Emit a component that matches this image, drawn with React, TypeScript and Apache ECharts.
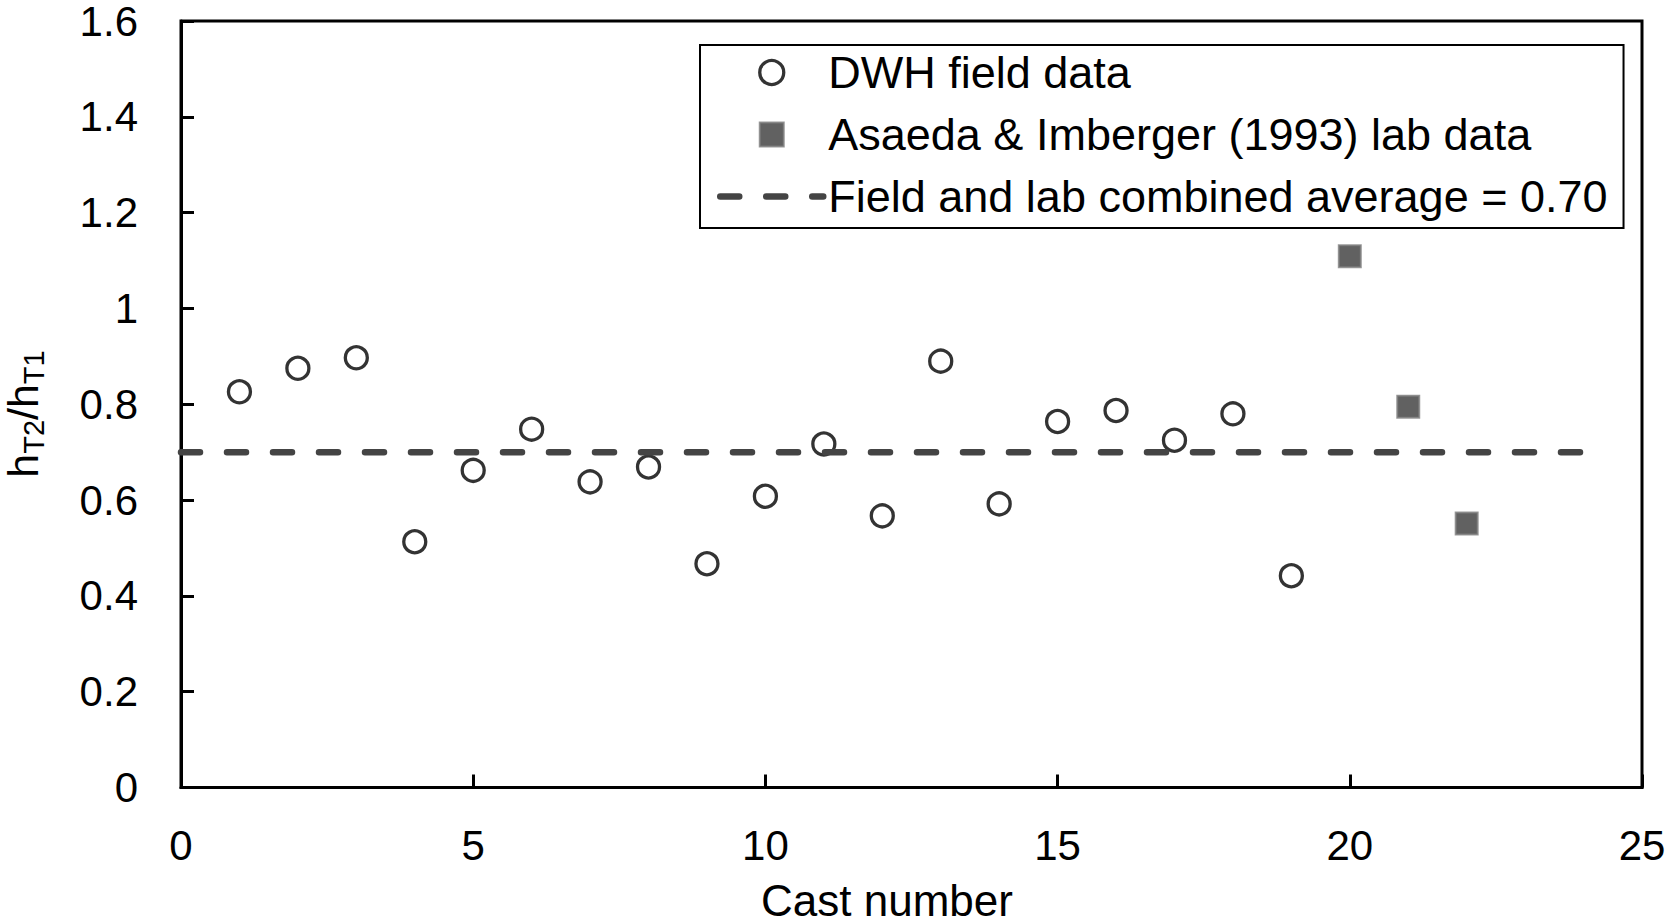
import React, { useEffect, useRef } from "react";
import * as echarts from "echarts";

// ---- data ----
const dwhCast = [1, 2, 3, 4, 5, 6, 7, 8, 9, 10, 11, 12, 13, 14, 15, 16, 17, 18, 19];
const dwhRatio = [0.826, 0.875, 0.897, 0.513, 0.662, 0.748, 0.638, 0.669, 0.467, 0.608, 0.717, 0.567, 0.89, 0.592, 0.764, 0.787, 0.725, 0.78, 0.442];
const labCast = [20, 21, 22];
const labRatio = [1.109, 0.795, 0.551];
const avgValue = 0.7;
const avgRange = [0, 24];
const seriesNames = [
  "DWH field data",
  "Asaeda & Imberger (1993) lab data",
  "Field and lab combined average = 0.70",
];
const xTitle = "Cast number";

const FONT = "'Liberation Sans', Arial, Helvetica, sans-serif";
const SQUARE_ICON = "path://M0 0H10V10H0Z";

export default function App() {
  const ref = useRef<HTMLDivElement>(null);

  useEffect(() => {
    if (!ref.current) return;
    const chart = echarts.init(ref.current, null, { renderer: "svg" });

    const circleStyle = { color: "rgba(255,255,255,0)", borderColor: "#000", borderWidth: 3.3 };
    const squareStyle = { color: "#3a3a3a", borderColor: "#808080", borderWidth: 2 };
    const dashStyle = { color: "#444", width: 6.5, type: [19, 27] as number[], cap: "round" as const };

    const option: any = {
      animation: false,
      backgroundColor: "#fff",
      grid: {
        left: 181,
        right: 28,
        top: 19.5,
        bottom: 135.5,
        show: true,
        borderColor: "#000",
        borderWidth: 3,
        backgroundColor: "rgba(0,0,0,0)",
      },
      xAxis: {
        type: "value",
        min: 0,
        max: 25,
        interval: 5,
        axisLine: { show: true, onZero: false, lineStyle: { color: "#000", width: 3 } },
        axisTick: { show: true, inside: true, length: 13, lineStyle: { color: "#000", width: 3 } },
        axisLabel: { color: "#000", fontSize: 42, fontFamily: FONT, margin: 37 },
        splitLine: { show: false },
      },
      yAxis: {
        type: "value",
        min: 0,
        max: 1.6,
        interval: 0.2,
        axisLine: { show: true, onZero: false, lineStyle: { color: "#000", width: 3 } },
        axisTick: { show: true, inside: true, length: 13, lineStyle: { color: "#000", width: 3 } },
        axisLabel: {
          color: "#000",
          fontSize: 42,
          fontFamily: FONT,
          margin: 43,
          lineHeight: 32,
          padding: [4, 0, 0, 0],
        },
        splitLine: { show: false },
      },
      legend: {
        show: true,
        orient: "vertical",
        left: 700,
        top: 45,
        align: "left",
        padding: [5, 16, 9, 17],
        itemGap: 17,
        itemWidth: 103,
        itemHeight: 24,
        symbolKeepAspect: true,
        borderColor: "#000",
        borderWidth: 2,
        backgroundColor: "#fff",
        selectedMode: false,
        textStyle: { color: "#000", fontSize: 45, fontFamily: FONT, lineHeight: 44 },
        data: [
          { name: seriesNames[0], icon: "circle", itemStyle: circleStyle },
          { name: seriesNames[1], icon: SQUARE_ICON, itemStyle: squareStyle },
          {
            name: seriesNames[2],
            lineStyle: dashStyle,
            itemStyle: { color: "rgba(0,0,0,0)", borderWidth: 0, opacity: 0 },
          },
        ],
      },
      series: [
        {
          name: seriesNames[0],
          type: "scatter",
          symbol: "circle",
          symbolSize: 22,
          itemStyle: circleStyle,
          data: dwhCast.map((c, i) => [c, dwhRatio[i]]),
          z: 2,
        },
        {
          name: seriesNames[1],
          type: "scatter",
          symbol: "rect",
          symbolSize: 22,
          itemStyle: squareStyle,
          data: labCast.map((c, i) => [c, labRatio[i]]),
          z: 2,
        },
        {
          name: seriesNames[2],
          type: "line",
          symbol: "none",
          itemStyle: { color: "#444" },
          lineStyle: dashStyle,
          data: avgRange.map((x) => [x, avgValue]),
          z: 3,
        },
      ],
      graphic: [
        {
          type: "text",
          x: 887,
          y: 900,
          style: {
            text: xTitle,
            fontSize: 44,
            fontFamily: FONT,
            fill: "#000",
            align: "center",
            verticalAlign: "middle",
            lineHeight: 36,
          },
        },
        {
          type: "text",
          x: 23,
          y: 414,
          rotation: Math.PI / 2,
          style: {
            text: "{h|h}{s|T2}{h|/h}{s|T1}",
            align: "center",
            verticalAlign: "middle",
            fill: "#000",
            rich: {
              h: { fontSize: 43, fontFamily: FONT, fill: "#000", lineHeight: 50, verticalAlign: "middle" },
              s: { fontSize: 29, fontFamily: FONT, fill: "#000", lineHeight: 30, verticalAlign: "bottom" },
            },
          },
        },
      ],
    };

    chart.setOption(option);
    return () => chart.dispose();
  }, []);

  return (
    <div
      ref={ref}
      style={{ position: "absolute", left: 0, top: 0, width: 1670, height: 923, background: "#fff" }}
    />
  );
}
